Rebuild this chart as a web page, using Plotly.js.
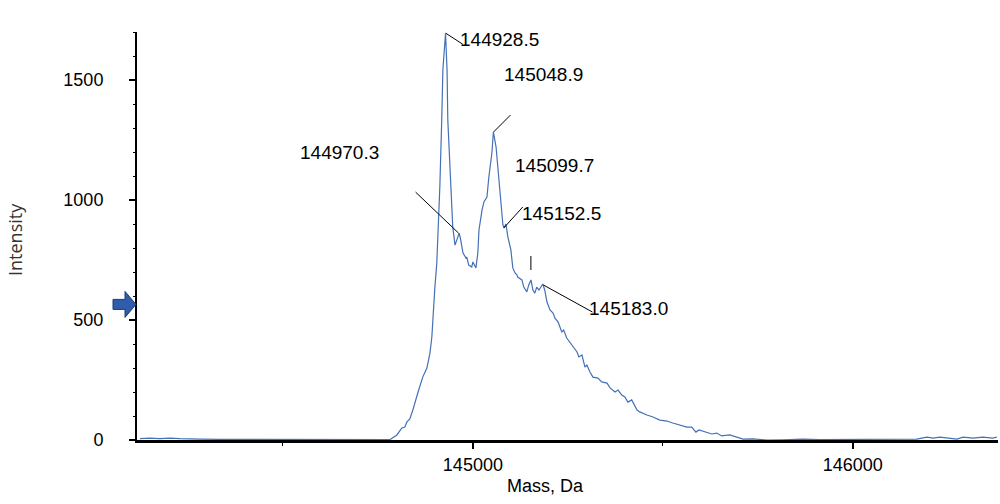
<!DOCTYPE html>
<html>
<head>
<meta charset="utf-8">
<script src="https://cdn.plot.ly/plotly-3.0.1.min.js"></script>
<style>html,body{margin:0;padding:0;background:#fff;}#chart{width:1000px;height:504px;}</style>
</head>
<body>
<div id="chart"></div>
<script>
// ---- Data ----
const massDa = [
  144124,144150,144176,144203,144229,144255,144282,144334,144413,144492,144571,144650,144729,144768,
  144782,144800,144813,144821,144826,144834,144842,144855,144868,144879,144887,144892,144895,144900,
  144905,144908,144913,144918,144921,144928,144932,144934,144942,144947,144953,144958,144964,144968,
  144974,144982,144984,144989,144997,145000,145008,145013,145016,145024,145029,145037,145042,145050,
  145054,145061,145066,145074,145079,145082,145087,145092,145100,145105,145111,145116,145118,145129,
  145134,145142,145147,145153,145158,145163,145168,145174,145184,145189,145195,145203,145211,145216,
  145224,145234,145239,145247,145255,145263,145274,145279,145287,145295,145300,145308,145316,145329,
  145339,145353,145361,145374,145382,145392,145400,145408,145418,145432,145439,145458,145474,145492,
  145511,145526,145545,145563,145576,145587,145595,145616,145629,145642,145655,145676,145695,145711,
  145737,145774,145816,145868,145913,145992,146071,146124,146168,146195,146211,146229,146255,146274,
  146290,146316,146342,146368,146379
];
const intensity = [
  6,8,6,8,6,4,4,3,3,3,3,3,3,3,
  2,21,50,54,75,88,125,196,262,300,362,429,529,637,
  737,833,1054,1333,1542,1695,1542,1333,1054,887,812,833,862,833,
  779,758,762,729,721,742,717,779,875,958,992,1012,1096,1196,
  1283,1221,1125,971,896,883,900,846,792,717,696,687,679,667,
  637,617,646,667,625,612,637,625,650,625,575,542,529,508,
  492,450,458,425,408,388,367,346,354,304,312,283,262,258,
  242,237,217,200,208,187,179,158,167,125,117,104,96,83,
  79,71,62,54,54,33,42,33,25,29,17,21,12,4,
  5,0,1,4,2,2,2,3,4,12,8,12,8,4,
  12,8,12,8,12
];
const peakLabels = ["144928.5","145048.9","144970.3","145099.7","145152.5","145183.0"];
const peakMass = [144928.5,145048.9,144970.3,145099.7,145152.5,145183.0];
const peakIntensity = [1695,1283,862,792,667,650];
const xTickVals = [145000,146000];
const arrowLevel = 565;

// ---- Label placement (pixel offsets from each peak; y positive = down on screen) ----
const labelShift = [[12,6],[11,-58],[-164,-81],[2,-84],[-11,-66],[45,24]];
const leaderSegs = [
  [[0,0,17,11]],
  [[2,0,19,-17]],
  [[-3,0,-46,-41]],
  [],
  [[-27,-52,-8,-73],[0,-10,0,-24]],
  [[1,1,50,28]]
];

const trace = {
  x: massDa, y: intensity, type: 'scatter', mode: 'lines',
  line: {color: '#4470b6', width: 1.2}, hoverinfo: 'skip', showlegend: false
};

const annotations = peakLabels.map((t,i)=>({
  x: peakMass[i], y: peakIntensity[i], xref:'x', yref:'y', text: t, showarrow:false,
  xanchor:'left', yanchor:'middle', xshift: labelShift[i][0], yshift: -labelShift[i][1],
  font:{family:'Liberation Sans, Arial, sans-serif', size:19, color:'#000'}
}));
annotations.push({
  xref:'paper', yref:'paper', x:(545-137)/861, y:-(486-440)/408, text:'Mass, Da', showarrow:false,
  xanchor:'center', yanchor:'middle', font:{family:'Liberation Sans, Arial, sans-serif', size:18, color:'#000'}
});
annotations.push({
  xref:'paper', yref:'paper', x:-(137-15)/861, y:(440-240)/408, text:'Intensity', showarrow:false, textangle:-90,
  xanchor:'center', yanchor:'middle', font:{family:'Open Sans, Noto Sans, sans-serif', size:18, color:'#333'}
});

const shapes = [];
leaderSegs.forEach((segs,i)=>{
  segs.forEach((s,k)=>{
    shapes.push({
      type:'line', xref:'x', yref:'y', xsizemode:'pixel', ysizemode:'pixel',
      xanchor: peakMass[i], yanchor: peakIntensity[i],
      x0:s[0], y0:-s[1], x1:s[2], y1:-s[3],
      line:{color: k===1 ? '#555' : '#000', width: k===1 ? 1.5 : 1}
    });
  });
});
// blue arrow marker on the y axis
shapes.push({
  type:'path', xref:'paper', yref:'y', xsizemode:'pixel', ysizemode:'pixel',
  xanchor:0, yanchor:arrowLevel,
  path:'M -24 -5 L -12 -5 L -12 -13 L -1 0 L -12 13 L -12 5 L -24 5 Z',
  fillcolor:'#2f5cab', line:{color:'#1d3c73', width:1}
});

const layout = {
  width:1000, height:504,
  margin:{l:137, r:2, t:32, b:64, pad:0},
  paper_bgcolor:'#fff', plot_bgcolor:'#fff',
  font:{family:'Liberation Sans, Arial, sans-serif', size:18, color:'#000'},
  xaxis:{
    range:[144116,146382], tickmode:'array', tickvals:xTickVals, ticktext:xTickVals.map(String),
    showgrid:false, zeroline:false, showline:true, linecolor:'#000', linewidth:3,
    ticks:'outside', ticklen:6, tickwidth:2, tickcolor:'#000',
    minor:{dtick:500, tick0:0, ticks:'outside', ticklen:3, tickwidth:1, tickcolor:'#000', showgrid:false},
    tickfont:{size:18, color:'#000'}, exponentformat:'none'
  },
  yaxis:{
    range:[0,1700], tick0:0, dtick:500, showgrid:false, zeroline:false,
    showline:true, linecolor:'#000', linewidth:2,
    ticks:'outside', ticklen:6, tickwidth:2, tickcolor:'#000',
    minor:{dtick:100, ticks:'outside', ticklen:2, tickwidth:1, tickcolor:'#000', showgrid:false},
    tickfont:{size:18, color:'#000'}, ticklabelstandoff:22
  },
  annotations: annotations,
  shapes: shapes
};

Plotly.newPlot('chart', [trace], layout, {displayModeBar:false, staticPlot:true});
</script>
</body>
</html>
